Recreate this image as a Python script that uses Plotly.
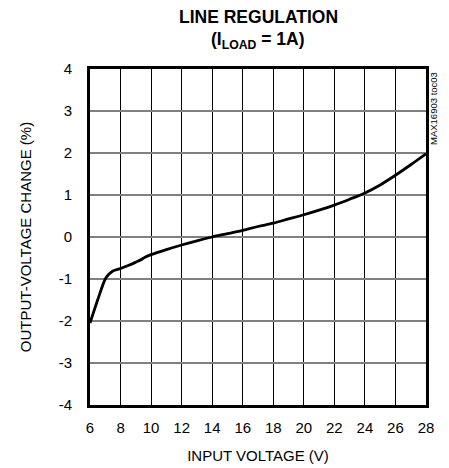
import plotly.graph_objects as go

input_voltage = [6, 6.5, 7, 7.2, 7.5, 8, 8.5, 9, 9.3, 9.6, 10, 11, 12, 13, 14, 15, 16, 17, 18,
                 19, 20, 21, 22, 23, 24, 25, 26, 27, 28]
output_change = [-2.05, -1.5, -1.0, -0.9, -0.81, -0.75, -0.68, -0.6, -0.55, -0.48, -0.42, -0.3,
                 -0.19, -0.09, 0.0, 0.08, 0.16, 0.25, 0.33, 0.43, 0.53, 0.64, 0.76, 0.9, 1.05,
                 1.24, 1.47, 1.72, 1.98]
x_ticks = list(range(6, 29, 2))
y_ticks = list(range(-4, 5, 1))
y_tick_labels = [str(v) for v in y_ticks]

FONT = "Liberation Sans, Arial, sans-serif"

W, H = 441, 460
ML, MR, MT, MB = 82, 23, 61, 63
OFF = 8  # page body margin

fig = go.Figure()
fig.add_trace(go.Scatter(x=input_voltage, y=output_change, mode="lines",
                         line=dict(color="black", width=2.8, shape="spline", smoothing=0.9),
                         showlegend=False, hoverinfo="skip"))

fig.update_layout(
    width=W, height=H,
    margin=dict(l=ML, r=MR, t=MT, b=MB, autoexpand=False),
    paper_bgcolor="white", plot_bgcolor="white",
    font=dict(family=FONT, size=15, color="black"),
    xaxis=dict(range=[6, 28], tickvals=x_ticks, showgrid=True, gridcolor="black", gridwidth=1,
               showline=True, linecolor="black", linewidth=3, mirror=True, zeroline=False,
               ticks="", ticklabelstandoff=7, automargin=False,
               title=dict(text="INPUT VOLTAGE (V)", standoff=16, font=dict(size=15))),
    yaxis=dict(range=[-4, 4], tickvals=y_ticks, ticktext=y_tick_labels, showgrid=True,
               gridcolor="#808080", gridwidth=1.5,
               showline=True, linecolor="black", linewidth=3, mirror=True, zeroline=False,
               ticks="", ticklabelstandoff=12, automargin=False,
               title=dict(text="OUTPUT-VOLTAGE CHANGE (%)", standoff=24, font=dict(size=15))),
)

ph = H - MT - MB
fig.add_annotation(text="<b>LINE REGULATION</b>", x=0.5, xref="paper",
                   y=1 + (MT + OFF - 16.5) / ph, yref="paper", yanchor="middle",
                   showarrow=False, font=dict(family=FONT, size=17.5))
fig.add_annotation(text="<b>(I<sub>LOAD</sub> = 1A)</b>", x=0.5, xref="paper",
                   y=1 + (MT + OFF - 40) / ph, yref="paper", yanchor="middle",
                   showarrow=False, font=dict(family=FONT, size=17.5))
fig.add_annotation(text="MAX16903 toc03", textangle=-90, x=1, xref="paper", y=1, yref="paper",
                   xanchor="left", yanchor="top", xshift=0, yshift=-1, showarrow=False,
                   font=dict(family=FONT, size=9.5))

fig.write_html("out.html")
